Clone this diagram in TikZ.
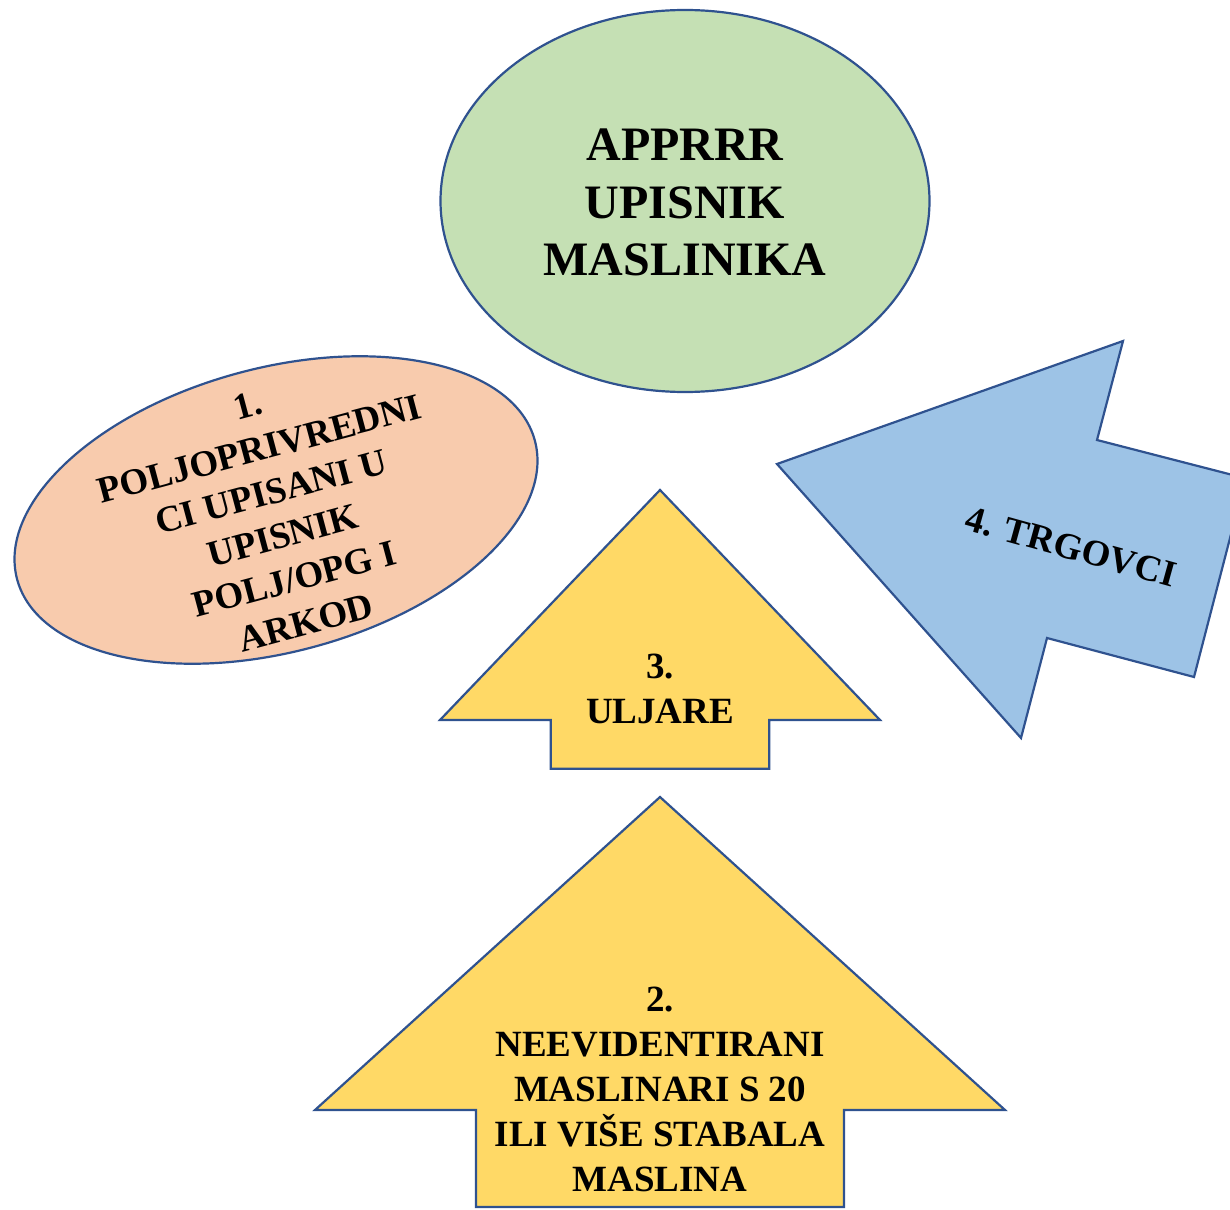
\documentclass[tikz,border=0pt]{standalone}
\usepackage{fontspec}
\setmainfont{Liberation Serif}
\usetikzlibrary{shapes.geometric}
\definecolor{registergreen}{HTML}{C5E0B4}
\definecolor{farmerpeach}{HTML}{F8CBAD}
\definecolor{millyellow}{HTML}{FFD966}
\definecolor{traderblue}{HTML}{9DC3E6}
\definecolor{outline}{HTML}{2F528F}

\begin{document}
\begin{tikzpicture}[x=0.5pt,y=-0.5pt,
  outlined/.style={draw=outline,line width=1.1pt,line join=miter},
  bigtxt/.style={font={\fontsize{24}{28.75}\selectfont\bfseries},align=center},
  smalltxt/.style={font={\fontsize{18.5}{22.5}\selectfont\bfseries},align=center}]
 \def\W{1230}
 \def\H{1209}
 \pgfmathsetmacro{\tilt}{15} % tilt of the farmers ellipse

 \useasboundingbox (0,0) rectangle (\W,\H);
 \clip (0,0) rectangle (\W,\H);

% the register on top
\node[ellipse, outlined, fill=registergreen, minimum width=244.5pt, minimum height=191pt, inner sep=0pt] (apprrr) at (685,201) {};
\node[bigtxt] (apprrrtext) at (685,202.5) {APPRRR\\UPISNIK\\MASLINIKA};

% 1. farmers (tilted ellipse)
\node[ellipse, outlined, fill=farmerpeach, minimum width=268pt, minimum height=142pt, inner sep=0pt, rotate=\tilt] (poljo) at (276,510) {};
\node[smalltxt, rotate=\tilt] (poljotext) at (277,514) {1.\\POLJOPRIVREDNI\\CI UPISANI U\\UPISNIK\\POLJ/OPG I\\ARKOD};

% 2. big arrow at the bottom (shaft runs off the page)
\draw[outlined, fill=millyellow] (660,797) -- (1005,1110) -- (844,1110) -- (844,1207) -- (476,1207) -- (476,1110) -- (315,1110) -- cycle;
\node[smalltxt] (neevid) at (660,1089) {2.\\NEEVIDENTIRANI\\MASLINARI S 20\\ILI VIŠE STABALA\\MASLINA};

% 3. small arrow in the middle
\draw[outlined, fill=millyellow] (660,490) -- (880,720) -- (769.3,720) -- (769.3,768.7) -- (550.7,768.7) -- (550.7,720) -- (440,720) -- cycle;
\node[smalltxt] (uljare) at (660,689) {3.\\ULJARE};

% 4. traders arrow coming in from the right
\draw[outlined, fill=traderblue] (777,464) -- (1123,341) -- (1097,440) -- (1245.5,478.3) -- (1194,677) -- (1047,638) -- (1021,738) -- cycle;
\node[smalltxt, rotate=-15.5] (trgovci) at (1071,547) {4. TRGOVCI};

\end{tikzpicture}
\end{document}
